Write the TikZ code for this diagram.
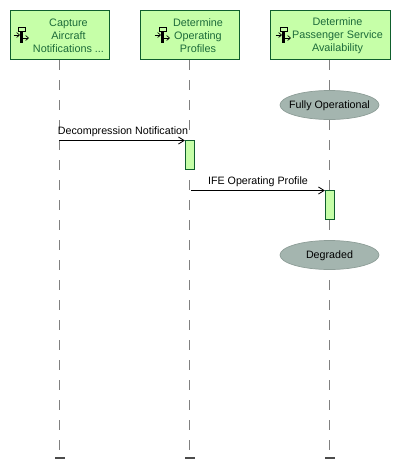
\documentclass[tikz,border=0pt]{standalone}
\usepackage{fontspec}
\setmainfont{Liberation Sans}
\usetikzlibrary{arrows.meta,shapes.geometric}
\definecolor{boxfill}{HTML}{C6FFA8}
\definecolor{boxline}{HTML}{0F5F2D}
\definecolor{boxtext}{HTML}{1C6B3A}
\definecolor{statefill}{HTML}{A4B5AF}
\definecolor{stateline}{HTML}{8E9E98}
\tikzset{
  lane/.style={draw=boxline,fill=boxfill,line width=0.5pt,minimum height=1.225cm,inner sep=0pt},
  lanetext/.style={align=center,text=boxtext,font=\fontsize{7.7}{9.25}\selectfont,inner sep=0pt},
  lifeline/.style={draw=black!50,line width=0.5pt,dash pattern=on 0.25cm off 0.25cm},
  stopbar/.style={draw=black!70,line width=1.1pt},
  active/.style={draw=boxline,fill=boxfill,line width=0.6pt,minimum width=0.235cm,minimum height=0.74cm,inner sep=0pt},
  stateoval/.style={ellipse,draw=stateline,fill=statefill,line width=0.5pt,minimum width=2.475cm,minimum height=0.725cm,inner sep=0pt},
  statetext/.style={inner sep=0pt,font=\fontsize{7.6}{9.25}\selectfont},
  msg/.style={-{Straight Barb[length=4pt,width=5pt]},line width=0.6pt,black},
  msgtext/.style={inner sep=0pt,font=\fontsize{7.6}{9.25}\selectfont},
  icon/.pic={
    \draw[black,line width=0.7pt,fill=boxfill] (-2,-8) rectangle (5,-4);
    \fill[black] (0,-4) rectangle (2.8,8);
    \draw[-{Straight Barb[length=2pt,width=3.5pt]},line width=0.5pt] (-6.5,0) -- (0,0);
    \draw[-{Straight Barb[length=2pt,width=3.5pt]},line width=0.5pt] (2.8,3) -- (9,3);
  }
}
\begin{document}
\begin{tikzpicture}[x=0.025cm,y=-0.025cm]
  \useasboundingbox (0,0) rectangle (401,475);
  \node[lane,minimum width=2.475cm] (capture) at (60,35) {};
  \node[lane,minimum width=2.475cm] (profiles) at (190,35) {};
  \node[lane,minimum width=3cm] (service) at (330,35) {};
  \node[lanetext] (captureL) at (68.5,36) {Capture\\Aircraft\\Notifications ...};
  \node[lanetext] (profilesL) at (198,36) {Determine\\Operating\\Profiles};
  \node[lanetext] (serviceL) at (337.5,36) {Determine\\Passenger Service\\Availability};
  \pic at (20,35) {icon};
  \pic at (161,35) {icon};
  \pic at (282,35) {icon};
  \coordinate (captureE) at (59,450);
  \coordinate (profilesE) at (189,450);
  \coordinate (serviceE) at (329,450);
  \draw[lifeline] (59,60) -- (captureE);
  \draw[lifeline] (189,60) -- (profilesE);
  \draw[lifeline] (329,60) -- (serviceE);
  \coordinate (capB1) at (55,458);
  \coordinate (capB2) at (65,458);
  \coordinate (proB1) at (185,458);
  \coordinate (proB2) at (195,458);
  \coordinate (serB1) at (325,458);
  \coordinate (serB2) at (335,458);
  \draw[stopbar] (capB1) -- (capB2);
  \draw[stopbar] (proB1) -- (proB2);
  \draw[stopbar] (serB1) -- (serB2);
  \node[stateoval] (operational) at (329.5,105) {};
  \node[stateoval] (degraded) at (329.5,255) {};
  \node[statetext] (operationalL) at (329.5,106) {Fully Operational};
  \node[statetext] (degradedL) at (329.5,256) {Degraded};
  \node[active] (act1) at (190,155) {};
  \node[active] (act2) at (330,205) {};
  \coordinate (notifyS) at (59,140.5);
  \coordinate (feS) at (191,190.5);
  \draw[msg] (notifyS) -- (notifyS -| act1.west);
  \draw[msg] (feS) -- (feS -| act2.west);
  \node[msgtext] (notifyL) at (123,131.5) {Decompression Notification};
  \node[msgtext] (feL) at (258,181.5) {IFE Operating Profile};
\end{tikzpicture}
\end{document}
